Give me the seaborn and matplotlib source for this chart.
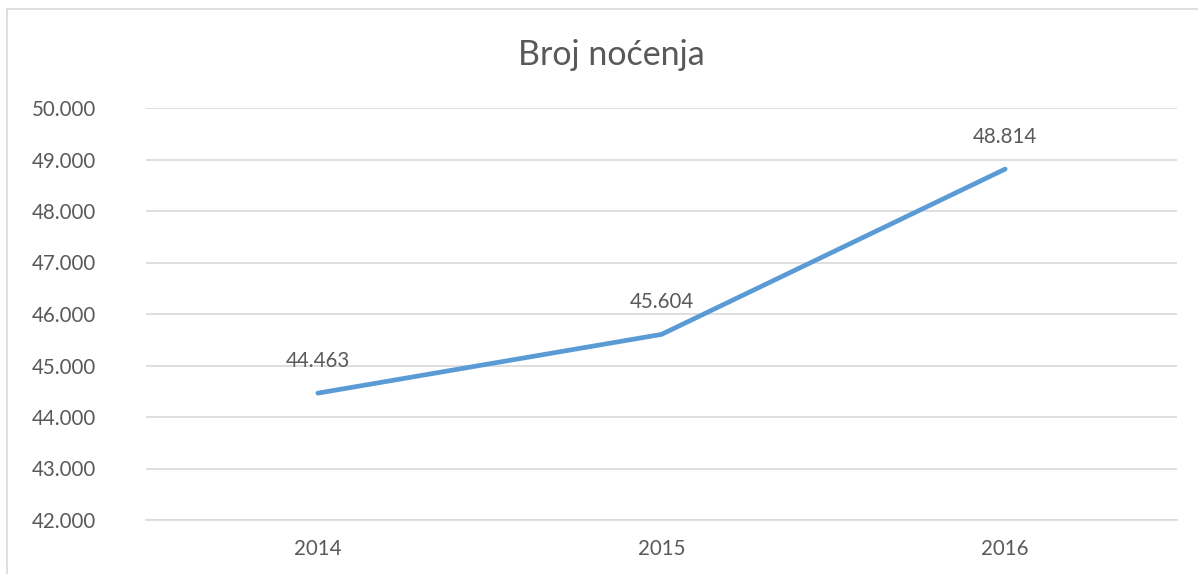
import matplotlib
matplotlib.use("Agg")
import matplotlib.pyplot as plt
import seaborn as sns
import pandas as pd
from matplotlib.lines import Line2D
from matplotlib.ticker import FuncFormatter

years = ["2014", "2015", "2016"]
nights = [44463, 45604, 48814]
title = "Broj noćenja"

sns.set_theme(style="white")
plt.rcParams['font.family'] = ['Lato', 'DejaVu Sans']

text_color = "#595959"
grid_color = "#D9D9D9"
line_color = "#5B9BD5"

fig = plt.figure(figsize=(11.98, 5.74), dpi=100)
ax = fig.add_axes([146/1198, 54/574, (1177-146)/1198, 412/574])

df = pd.DataFrame({"year": years, "nights": nights})
sns.lineplot(data=df, x="year", y="nights", ax=ax, color=line_color,
             linewidth=3.4, solid_capstyle="round", sort=False)

ax.set_xlim(-0.5, 2.5)
ax.set_ylim(42000, 50000)
ax.set_yticks(range(42000, 50001, 1000))
ax.yaxis.set_major_formatter(FuncFormatter(lambda v, p: f"{int(v):,}".replace(",", ".")))
ax.grid(axis="y", color=grid_color, linewidth=1.2)
ax.grid(axis="x", visible=False)
ax.set_axisbelow(True)
for s in ax.spines.values():
    s.set_visible(False)
ax.spines["bottom"].set_visible(True)
ax.spines["bottom"].set_color(grid_color)
ax.spines["bottom"].set_linewidth(1.2)
ax.tick_params(axis="y", length=0, pad=36, labelsize=14.8, labelcolor=text_color)
ax.tick_params(axis="x", length=0, pad=14, labelsize=14.8, labelcolor=text_color)
ax.set_xlabel("")
ax.set_ylabel("")

for i, v in enumerate(nights):
    ax.annotate(f"{v:,}".replace(",", "."), (i, v), xytext=(0, 23),
                textcoords="offset points", ha="center", va="center",
                fontsize=14.8, color=text_color)

fig.text(611/1198, 1 - 55/574, title, ha="center", va="center",
         fontsize=24.5, color=text_color)

# chart frame (left and top edges visible)
fig.add_artist(Line2D([6.5/1198, 6.5/1198], [0, 1 - 9/574], transform=fig.transFigure,
                      color=grid_color, linewidth=1.2))
fig.add_artist(Line2D([6.5/1198, 1], [1 - 9/574, 1 - 9/574], transform=fig.transFigure,
                      color=grid_color, linewidth=1.2))

fig.savefig("out.png", dpi=100)
